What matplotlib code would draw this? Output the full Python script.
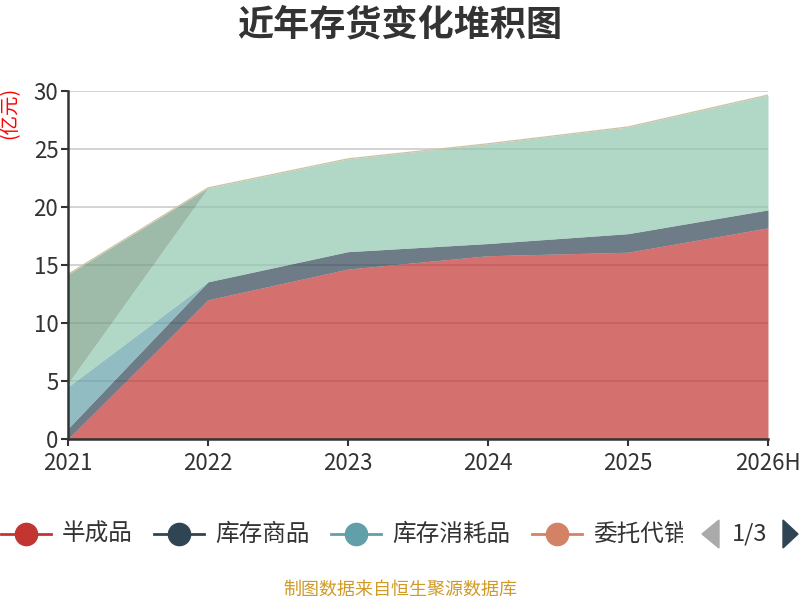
import numpy as np
import matplotlib
matplotlib.use('agg')
import matplotlib.pyplot as plt
from matplotlib.lines import Line2D
from matplotlib.patches import Polygon, Rectangle

plt.rcParams['font.family'] = ['Noto Sans CJK SC', 'DejaVu Sans']

# data (亿元), NaN = no value
years = ['2021', '2022', '2023', '2024', '2025', '2026H']
names = ['半成品', '库存商品', '库存消耗品', '委托代销', '原材料', '发出商品']
colors = ['#c23531', '#2f4554', '#61a0a8', '#d48265', '#91c7ae', '#749f83']
banchengpin = [0.0, 12.0, 14.65, 15.8, 16.1, 18.2]
kucun_shangpin = [0.9, 1.55, 1.5, 1.05, 1.6, 1.55]
kucun_xiaohao = [3.6, 0.0, np.nan, np.nan, np.nan, np.nan]
weituo_daixiao = [np.nan] * 6
yuancailiao = [0.3, 8.1, 8.0, 8.6, 9.2, 9.9]
fachu_shangpin = [9.4, 0.0, np.nan, np.nan, np.nan, np.nan]
series = [banchengpin, kucun_shangpin, kucun_xiaohao, weituo_daixiao, yuancailiao, fachu_shangpin]

fig = plt.figure(figsize=(8, 6), dpi=100)
ax = fig.add_axes([68 / 800, 1 - 439 / 600, 700 / 800, 348 / 600])
x = np.arange(len(years))

base = np.zeros(len(years))
for vals, c in zip(series, colors):
    v = np.array(vals, dtype=float)
    top = base + np.nan_to_num(v)
    yb = np.where(np.isnan(v), np.nan, base)
    yt = np.where(np.isnan(v), np.nan, top)
    ax.fill_between(x, yb, yt, color=c, alpha=0.7, linewidth=0, zorder=3)
    base = top
ax.plot(x, base, color='#cfc2a4', lw=0.9, zorder=4)

ax.set_xlim(0, len(years) - 1)
ax.set_ylim(0, 30)
ax.set_yticks(range(0, 31, 5))
ax.set_xticks(x)
ax.set_xticklabels(years)
ax.grid(axis='y', color='#cccccc', lw=1.2, zorder=1)
ax.tick_params(labelsize=16, colors='#333333', length=5, width=1.5, pad=2)
ax.tick_params(axis='x', pad=4)
for s in ['top', 'right']:
    ax.spines[s].set_visible(False)
for s in ['left', 'bottom']:
    ax.spines[s].set_color('#333333')
    ax.spines[s].set_linewidth(1.8)
    ax.spines[s].set_zorder(5)

fig.text(0.5, 1 - 25 / 600, '近年存货变化堆积图', ha='center', va='center',
         fontsize=26, fontweight='bold', color='#333333')
fig.text(10 / 800, 1 - 113 / 600, '(亿元)', ha='center', va='center', rotation=90,
         fontsize=14, color='#ff0000')
fig.text(0.5, 1 - 590 / 600, '制图数据来自恒生聚源数据库', ha='center', va='center',
         fontsize=13, color='#d19a28')

# legend (page 1 of 3)
ly = 1 - 534 / 600
starts = [1, 154, 331, 532]
clip = Rectangle((0, 0), 683 / 800, 1, transform=fig.transFigure, visible=False)
fig.add_artist(clip)
for i in range(4):
    x0 = starts[i]
    fig.add_artist(Line2D([x0 / 800, (x0 + 50) / 800], [ly, ly], color=colors[i], lw=2,
                          transform=fig.transFigure))
    fig.add_artist(Line2D([(x0 + 25) / 800], [ly], marker='o', markersize=16, color=colors[i],
                          transform=fig.transFigure))
    t = fig.text((x0 + 61) / 800, ly, names[i], ha='left', va='center', fontsize=17,
                 color='#333333')
    t.set_clip_path(clip)
fig.add_artist(Polygon([[702 / 800, ly], [719 / 800, 1 - 520 / 600], [719 / 800, 1 - 548 / 600]],
                       closed=True, color='#aaaaaa', transform=fig.transFigure))
fig.text(750 / 800, ly, '1/3', ha='center', va='center', fontsize=17, color='#333333')
fig.add_artist(Polygon([[798 / 800, ly], [783 / 800, 1 - 520 / 600], [783 / 800, 1 - 548 / 600]],
                       closed=True, color='#2f4554', transform=fig.transFigure))

fig.savefig('out.png', dpi=100)
